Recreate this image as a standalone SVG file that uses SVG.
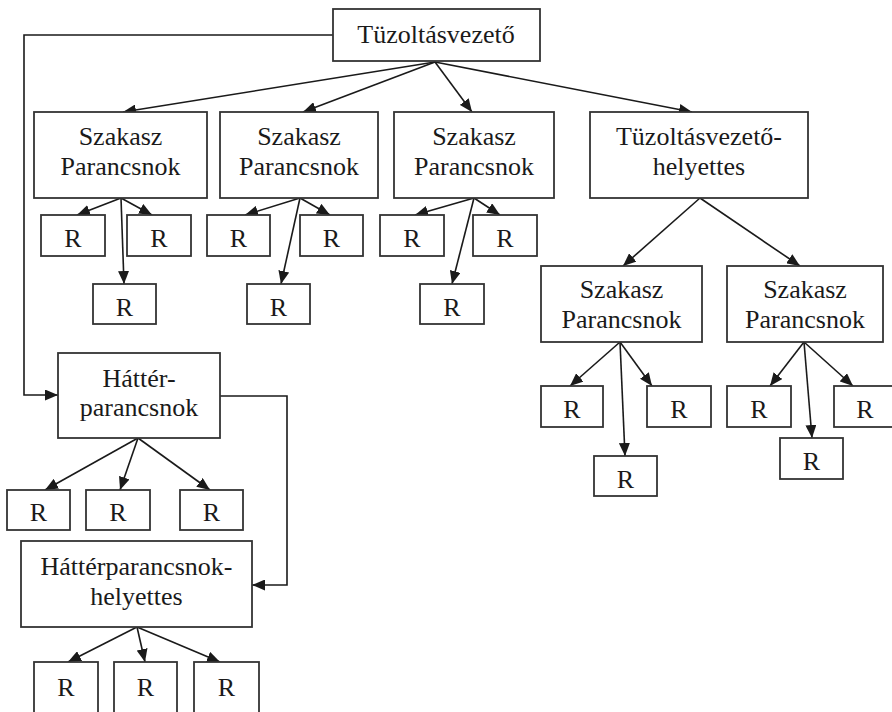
<svg xmlns="http://www.w3.org/2000/svg" width="892" height="712" viewBox="0 0 892 712">
<style>
.box{fill:#fff;stroke:#333;stroke-width:1.8}
.t{font-family:"Liberation Serif","Times New Roman",serif;font-size:26px;fill:#1a1a1a;text-anchor:middle}
.e{fill:none;stroke:#1a1a1a;stroke-width:1.6;marker-end:url(#ah)}
</style>
<defs>
<marker id="ah" markerUnits="userSpaceOnUse" markerWidth="13" markerHeight="11" refX="13" refY="5.5" orient="auto">
<path d="M0,0 L13,5.5 L0,11 z" fill="#1a1a1a"/>
</marker>
</defs>
<rect width="892" height="712" fill="#fff"/>
<g id="connectors">
<path class="e" d="M333,35 H24 V395 H58"/>
<path class="e" d="M220,396 H287 V585 H252"/>
<path class="e" d="M435,62 L123,112"/>
<path class="e" d="M435,62 L303,112"/>
<path class="e" d="M435,62 L472,112"/>
<path class="e" d="M435,62 L692,112"/>
<path class="e" d="M121,198 L77,215"/>
<path class="e" d="M121,198 L152,215"/>
<path class="e" d="M121,198 L124,284"/>
<path class="e" d="M300,198 L245,215"/>
<path class="e" d="M300,198 L330,215"/>
<path class="e" d="M300,198 L281,284"/>
<path class="e" d="M474,198 L415,215"/>
<path class="e" d="M474,198 L500,215"/>
<path class="e" d="M474,198 L452,284"/>
<path class="e" d="M700,198 L623,266"/>
<path class="e" d="M700,198 L800,266"/>
<path class="e" d="M620,342 L570,386"/>
<path class="e" d="M620,342 L652,386"/>
<path class="e" d="M620,342 L625,456"/>
<path class="e" d="M804,342 L770,386"/>
<path class="e" d="M804,342 L853,386"/>
<path class="e" d="M804,342 L812,438"/>
<path class="e" d="M138,438 L45,490"/>
<path class="e" d="M138,438 L120,490"/>
<path class="e" d="M138,438 L210,490"/>
<path class="e" d="M137,627 L68,662"/>
<path class="e" d="M137,627 L145,662"/>
<path class="e" d="M137,627 L220,662"/>
</g>
<g id="top"><rect class="box" x="333" y="9" width="207" height="52"/><text class="t" x="436" y="43">Tüzoltásvezető</text></g>
<g id="sp1"><rect class="box" x="34" y="112" width="173" height="86"/><text class="t" x="120.5" y="145">Szakasz</text><text class="t" x="120.5" y="175">Parancsnok</text></g>
<g id="sp2"><rect class="box" x="220" y="112" width="158" height="86"/><text class="t" x="299" y="145">Szakasz</text><text class="t" x="299" y="175">Parancsnok</text></g>
<g id="sp3"><rect class="box" x="394" y="112" width="160" height="86"/><text class="t" x="474" y="145">Szakasz</text><text class="t" x="474" y="175">Parancsnok</text></g>
<g id="tvh"><rect class="box" x="590" y="112" width="218" height="86"/><text class="t" x="699" y="145">Tüzoltásvezető-</text><text class="t" x="699" y="175">helyettes</text></g>
<g id="sp5"><rect class="box" x="541" y="266" width="161" height="76"/><text class="t" x="621.5" y="298">Szakasz</text><text class="t" x="621.5" y="328">Parancsnok</text></g>
<g id="sp6"><rect class="box" x="727" y="266" width="156" height="76"/><text class="t" x="805" y="298">Szakasz</text><text class="t" x="805" y="328">Parancsnok</text></g>
<g id="hp"><rect class="box" x="58" y="353" width="162" height="85"/><text class="t" x="139" y="387">Háttér-</text><text class="t" x="139" y="416">parancsnok</text></g>
<g id="hph"><rect class="box" x="21" y="541" width="231" height="86"/><text class="t" x="136.5" y="575">Háttérparancsnok-</text><text class="t" x="136.5" y="605">helyettes</text></g>
<g id="r1"><rect class="box" x="41" y="215" width="64" height="41"/><text class="t" x="73" y="247">R</text></g>
<g id="r2"><rect class="box" x="127" y="215" width="64" height="41"/><text class="t" x="159" y="247">R</text></g>
<g id="r3"><rect class="box" x="93" y="284" width="63" height="40"/><text class="t" x="124.5" y="316">R</text></g>
<g id="r4"><rect class="box" x="207" y="215" width="63" height="41"/><text class="t" x="238.5" y="247">R</text></g>
<g id="r5"><rect class="box" x="300" y="215" width="63" height="41"/><text class="t" x="331.5" y="247">R</text></g>
<g id="r6"><rect class="box" x="247" y="284" width="63" height="40"/><text class="t" x="278.5" y="316">R</text></g>
<g id="r7"><rect class="box" x="380" y="215" width="64" height="41"/><text class="t" x="412" y="247">R</text></g>
<g id="r8"><rect class="box" x="473" y="215" width="64" height="41"/><text class="t" x="505" y="247">R</text></g>
<g id="r9"><rect class="box" x="420" y="284" width="64" height="40"/><text class="t" x="452" y="316">R</text></g>
<g id="r10"><rect class="box" x="541" y="386" width="62" height="41"/><text class="t" x="572" y="418">R</text></g>
<g id="r11"><rect class="box" x="647" y="386" width="64" height="41"/><text class="t" x="679" y="418">R</text></g>
<g id="r12"><rect class="box" x="594" y="456" width="63" height="40"/><text class="t" x="625.5" y="488">R</text></g>
<g id="r13"><rect class="box" x="727" y="386" width="64" height="41"/><text class="t" x="759" y="418">R</text></g>
<g id="r14"><rect class="box" x="834" y="386" width="64" height="41"/><text class="t" x="865" y="418">R</text></g>
<g id="r15"><rect class="box" x="780" y="438" width="63" height="41"/><text class="t" x="811.5" y="470">R</text></g>
<g id="r16"><rect class="box" x="7" y="490" width="63" height="40"/><text class="t" x="38.5" y="521">R</text></g>
<g id="r17"><rect class="box" x="86" y="490" width="64" height="40"/><text class="t" x="118" y="521">R</text></g>
<g id="r18"><rect class="box" x="180" y="490" width="63" height="40"/><text class="t" x="211.5" y="521">R</text></g>
<g id="r19"><rect class="box" x="34" y="662" width="64" height="56"/><text class="t" x="66" y="696">R</text></g>
<g id="r20"><rect class="box" x="114" y="662" width="63" height="56"/><text class="t" x="145.5" y="696">R</text></g>
<g id="r21"><rect class="box" x="194" y="662" width="65" height="56"/><text class="t" x="226.5" y="696">R</text></g>
</svg>
